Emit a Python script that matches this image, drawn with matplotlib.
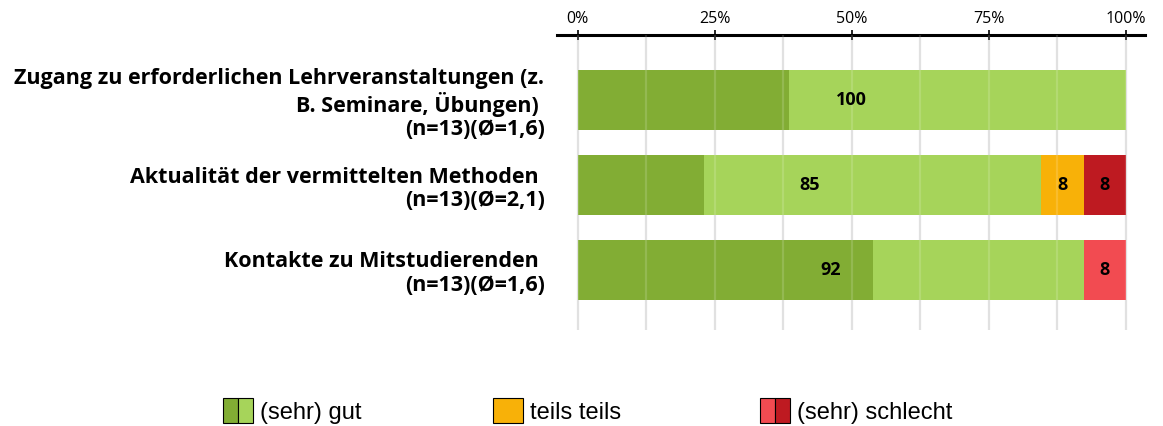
import matplotlib
matplotlib.use("Agg")
from matplotlib import pyplot as plt
from matplotlib.patches import Patch
from matplotlib.legend_handler import HandlerTuple
import numpy as np

# Anteile in Prozent (n=13)
items = [
    "Zugang zu erforderlichen Lehrveranstaltungen (z.\nB. Seminare, Übungen) \n(n=13)(Ø=1,6)",
    "Aktualität der vermittelten Methoden \n(n=13)(Ø=2,1)",
    "Kontakte zu Mitstudierenden \n(n=13)(Ø=1,6)",
]
sehr_gut = [38.5, 23.1, 53.8]
gut = [61.5, 61.5, 38.5]
teils = [0.0, 7.7, 0.0]
schlecht = [0.0, 0.0, 7.7]
sehr_schlecht = [0.0, 7.7, 0.0]

lbl_gut = [100, 85, 92]
lbl_teils = [None, 8, None]
lbl_schlecht = [None, 8, 8]

ticks = [0, 25, 50, 75, 100]
tick_labels = ["0%", "25%", "50%", "75%", "100%"]
legend_names = ["(sehr) gut", "teils teils", "(sehr) schlecht"]

c_sg, c_g = "#82ad34", "#a6d45a"
c_t = "#f8b108"
c_s, c_ss = "#f24b51", "#be1a21"

font = "Open Sans"

fig = plt.figure(figsize=(11.63, 4.26), dpi=100)
ax = fig.add_axes([557 / 1163, 1 - 330 / 426, 588 / 1163, 295 / 426])

y = np.arange(len(items))
h = 0.706
segs = [(sehr_gut, c_sg), (gut, c_g), (teils, c_t), (schlecht, c_s), (sehr_schlecht, c_ss)]
left = np.zeros(len(items))
for vals, col in segs:
    ax.barh(y, vals, left=left, height=h, color=col, zorder=2)
    left += np.array(vals)

for g in np.arange(0, 101, 12.5):
    ax.axvline(g, color="#dcdcdc", lw=1.6, zorder=1)
    ax.axvline(g, color="white", lw=1.6, alpha=0.15, zorder=3)

g_tot = np.array(sehr_gut) + np.array(gut)
kw = dict(ha="center", va="center", fontsize=13, fontweight="bold", family=font, zorder=4)
for i in range(len(items)):
    ax.text(g_tot[i] / 2, y[i], str(lbl_gut[i]), **kw)
    if lbl_teils[i] is not None:
        ax.text(g_tot[i] + teils[i] / 2, y[i], str(lbl_teils[i]), **kw)
    if lbl_schlecht[i] is not None:
        b0 = g_tot[i] + teils[i]
        ax.text(b0 + (schlecht[i] + sehr_schlecht[i]) / 2, y[i], str(lbl_schlecht[i]), **kw)

ax.set_xlim(-3.8, 103.5)
ax.set_ylim(2 + h, -0.765)
ax.xaxis.tick_top()
ax.set_xticks(ticks)
ax.set_xticklabels(tick_labels, family=font, fontsize=11.5)
ax.tick_params(axis="x", direction="inout", length=7, width=1.2, pad=2)
ax.set_yticks(y)
ax.set_yticklabels(items, family=font, fontsize=15.5, fontweight="bold", ha="right",
                   multialignment="right", linespacing=1.15)
ax.tick_params(axis="y", length=0, pad=9)
for s in ["left", "right", "bottom"]:
    ax.spines[s].set_visible(False)
ax.spines["top"].set_linewidth(2.2)

handles = [(Patch(facecolor=c_sg, edgecolor="black", lw=0.8), Patch(facecolor=c_g, edgecolor="black", lw=0.8)),
           Patch(facecolor=c_t, edgecolor="black", lw=0.8),
           (Patch(facecolor=c_s, edgecolor="black", lw=0.8), Patch(facecolor=c_ss, edgecolor="black", lw=0.8))]
leg_x = [223 / 1163, 493 / 1163, 760 / 1163]
for hd, name, lx in zip(handles, legend_names, leg_x):
    lg = fig.legend([hd], [name], loc="center left", bbox_to_anchor=(lx, 1 - 411 / 426),
                    frameon=False, borderpad=0, borderaxespad=0,
                    handler_map={tuple: HandlerTuple(ndivide=None, pad=0)},
                    prop={"family": "Liberation Sans", "size": 17},
                    handlelength=1.27, handleheight=1.2, handletextpad=0.3)

fig.savefig("out.png", dpi=100)
